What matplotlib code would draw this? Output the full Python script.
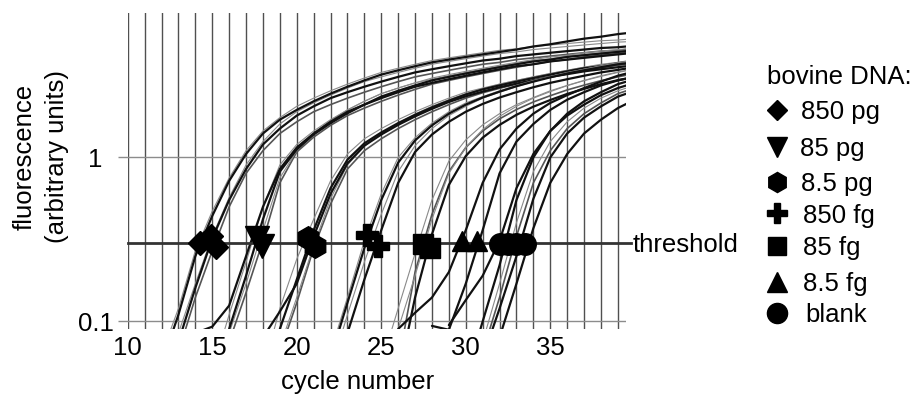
import matplotlib
matplotlib.use("Agg")
import matplotlib.pyplot as plt
from matplotlib.lines import Line2D

plt.rcParams['font.family'] = ['Liberation Sans', 'DejaVu Sans']
FS = 18.5

# fluorescence per cycle; each curve starts at *_start
pg850_start = [12, 12, 13, 13, 13]
pg850_vals = [
    [0.063, 0.12, 0.27, 0.47, 0.75, 1.1, 1.45, 1.75, 2.05, 2.3, 2.55, 2.8, 3.05, 3.3, 3.5,
     3.7, 3.9, 4.05, 4.2, 4.35, 4.5, 4.6, 4.75, 4.85, 4.95, 5.05, 5.15, 5.2, 5.3],
    [0.055, 0.11, 0.25, 0.44, 0.72, 1.05, 1.4, 1.7, 1.95, 2.2, 2.45, 2.7, 2.95, 3.2, 3.4,
     3.6, 3.8, 3.95, 4.1, 4.25, 4.4, 4.55, 4.75, 4.9, 5.1, 5.3, 5.45, 5.65, 5.8],
    [0.075, 0.16, 0.32, 0.55, 0.85, 1.2, 1.5, 1.8, 2.05, 2.3, 2.5, 2.7, 2.9, 3.1, 3.3,
     3.45, 3.6, 3.75, 3.9, 4.0, 4.15, 4.25, 4.35, 4.45, 4.55, 4.65, 4.7, 4.8],
    [0.065, 0.14, 0.27, 0.5, 0.8, 1.1, 1.4, 1.65, 1.9, 2.1, 2.3, 2.5, 2.7, 2.9, 3.1,
     3.25, 3.4, 3.55, 3.7, 3.8, 3.95, 4.05, 4.15, 4.25, 4.35, 4.45, 4.5, 4.6],
    [0.085, 0.17, 0.33, 0.57, 0.9, 1.25, 1.6, 1.9, 2.15, 2.4, 2.65, 2.9, 3.1, 3.3, 3.5,
     3.7, 3.85, 4.0, 4.15, 4.3, 4.4, 4.55, 4.65, 4.75, 4.85, 4.95, 5.05, 5.1],
]
pg850_style = ['thin', 'thick', 'thick', 'medium', 'thin']

pg85_start = [15, 16, 14, 16, 16]
pg85_vals = [
    [0.05, 0.11, 0.23, 0.5, 0.9, 1.2, 1.45, 1.7, 1.95, 2.2, 2.45, 2.65, 2.85, 3.0, 3.15,
     3.3, 3.45, 3.6, 3.75, 3.9, 4.0, 4.15, 4.25, 4.35, 4.45, 4.55],
    [0.09, 0.19, 0.42, 0.82, 1.12, 1.38, 1.62, 1.86, 2.1, 2.35, 2.55, 2.75, 2.95, 3.1, 3.25,
     3.4, 3.55, 3.7, 3.85, 3.95, 4.1, 4.2, 4.3, 4.4, 4.5],
    [0.085, 0.093, 0.125, 0.25, 0.5, 0.85, 1.15, 1.4, 1.65, 1.9, 2.1, 2.3, 2.5, 2.7, 2.85,
     3.0, 3.15, 3.3, 3.45, 3.6, 3.7, 3.85, 3.95, 4.05, 4.15, 4.25, 4.35],
    [0.075, 0.15, 0.31, 0.7, 1.08, 1.33, 1.57, 1.8, 2.0, 2.2, 2.4, 2.6, 2.8, 2.95, 3.1,
     3.25, 3.4, 3.55, 3.7, 3.85, 3.95, 4.1, 4.2, 4.3, 4.4],
    [0.085, 0.17, 0.36, 0.75, 1.1, 1.4, 1.68, 1.95, 2.2, 2.45, 2.65, 2.85, 3.05, 3.2, 3.35,
     3.5, 3.65, 3.8, 3.95, 4.1, 4.2, 4.35, 4.45, 4.55, 4.65],
]
pg85_style = ['thin', 'thick', 'thick', 'medium', 'thin']

pg8_start = [18, 19, 18, 19, 19]
pg8_vals = [
    [0.05, 0.12, 0.24, 0.42, 0.72, 1.05, 1.3, 1.5, 1.7, 1.9, 2.1, 2.3, 2.5, 2.65, 2.8,
     2.95, 3.1, 3.25, 3.4, 3.55, 3.65, 3.8, 3.9],
    [0.09, 0.18, 0.36, 0.65, 0.97, 1.22, 1.42, 1.62, 1.82, 2.02, 2.22, 2.42, 2.6, 2.75,
     2.9, 3.05, 3.2, 3.35, 3.5, 3.6, 3.75, 3.85],
    [0.08, 0.115, 0.17, 0.33, 0.6, 0.92, 1.18, 1.38, 1.58, 1.78, 1.98, 2.18, 2.36, 2.52,
     2.68, 2.82, 2.96, 3.1, 3.22, 3.35, 3.45, 3.55, 3.65],
    [0.065, 0.13, 0.28, 0.52, 0.85, 1.1, 1.3, 1.5, 1.7, 1.9, 2.1, 2.3, 2.48, 2.64, 2.8,
     2.95, 3.1, 3.25, 3.4, 3.52, 3.65, 3.75],
    [0.07, 0.14, 0.29, 0.56, 0.9, 1.17, 1.4, 1.62, 1.84, 2.05, 2.25, 2.45, 2.62, 2.8,
     2.95, 3.1, 3.25, 3.4, 3.55, 3.7, 3.8, 3.95],
]
pg8_style = ['thin', 'thick', 'thick', 'medium', 'thin']

fg850_start = [22, 22, 23, 22]
fg850_vals = [
    [0.065, 0.14, 0.31, 0.6, 1.0, 1.32, 1.62, 1.9, 2.15, 2.35, 2.55, 2.75, 2.95, 3.12,
     3.3, 3.45, 3.6, 3.75, 3.85],
    [0.06, 0.13, 0.28, 0.55, 0.93, 1.27, 1.57, 1.85, 2.1, 2.32, 2.52, 2.72, 2.9, 3.08,
     3.25, 3.4, 3.55, 3.7, 3.8],
    [0.085, 0.18, 0.36, 0.7, 1.08, 1.38, 1.65, 1.9, 2.12, 2.32, 2.5, 2.68, 2.85, 3.0,
     3.15, 3.3, 3.42, 3.55],
    [0.05, 0.11, 0.23, 0.45, 0.82, 1.18, 1.5, 1.8, 2.05, 2.3, 2.5, 2.7, 2.9, 3.1, 3.28,
     3.45, 3.62, 3.78, 3.92],
]
fg850_style = ['thin', 'thick', 'thick', 'thin']

fg85_start = [25, 26, 26, 25]
fg85_vals = [
    [0.055, 0.12, 0.26, 0.55, 0.95, 1.28, 1.58, 1.85, 2.1, 2.32, 2.55, 2.75, 2.95, 3.15,
     3.32, 3.48],
    [0.055, 0.2, 0.45, 0.82, 1.15, 1.45, 1.72, 1.96, 2.18, 2.38, 2.58, 2.76, 2.94, 3.1, 3.25],
    [0.045, 0.14, 0.34, 0.68, 1.02, 1.32, 1.58, 1.82, 2.04, 2.24, 2.44, 2.62, 2.8, 2.96, 3.1],
    [0.045, 0.09, 0.19, 0.42, 0.8, 1.15, 1.48, 1.78, 2.05, 2.3, 2.52, 2.74, 2.94, 3.12,
     3.3, 3.45],
]
fg85_style = ['thin', 'medium', 'thick', 'thin']

fg8_start = [26, 28]
fg8_vals = [
    [0.09, 0.113, 0.14, 0.2, 0.36, 0.7, 1.12, 1.5, 1.85, 2.15, 2.4, 2.65, 2.9, 3.15, 3.35],
    [0.094, 0.089, 0.17, 0.36, 0.8, 1.25, 1.6, 1.95, 2.25, 2.5, 2.75, 2.95, 3.1],
]
fg8_style = ['thick', 'thick']

blank_start = [29, 30, 31, 31, 32, 31]
blank_vals = [
    [0.095, 0.135, 0.19, 0.31, 0.65, 1.05, 1.45, 1.8, 2.1, 2.4, 2.65, 2.85],
    [0.045, 0.1, 0.22, 0.55, 1.0, 1.45, 1.85, 2.2, 2.5, 2.8, 3.0],
    [0.075, 0.17, 0.4, 0.82, 1.25, 1.65, 2.0, 2.3, 2.55, 2.75],
    [0.06, 0.12, 0.25, 0.56, 1.0, 1.4, 1.75, 2.05, 2.35, 2.55],
    [0.08, 0.17, 0.37, 0.7, 1.05, 1.4, 1.7, 2.0, 2.25],
    [0.065, 0.14, 0.33, 0.7, 1.1, 1.5, 1.85, 2.15, 2.45, 2.65],
]
blank_style = ['thick', 'thick', 'thin', 'thick', 'thick', 'medium']

# threshold-crossing markers
labels = ['850 pg', '85 pg', '8.5 pg', '850 fg', '85 fg', '8.5 fg', 'blank']
markers = ['D', 'v', 'h', 'P', 's', '^', 'o']
marker_size = [12.5, 17, 17, 15.5, 15, 15, 15.5]
legend_size = [10.5, 14.5, 14.5, 14.5, 13.5, 14.5, 14.5]
ct_x = [[14.26, 14.91, 15.2], [17.63, 17.92], [20.69, 21.08], [24.13, 24.82],
        [27.47, 27.86], [29.75, 30.67], [32.0, 32.5, 33.0, 33.5]]
ct_y = [[0.30, 0.33, 0.285], [0.323, 0.287], [0.323, 0.287], [0.338, 0.29],
        [0.295, 0.28], [0.308, 0.308], [0.296, 0.296, 0.296, 0.296]]
threshold = 0.3

styles = {'thick': dict(color='#111111', lw=1.6),
          'medium': dict(color='#555555', lw=1.2),
          'thin': dict(color='#8a8a8a', lw=0.8)}

fig = plt.figure(figsize=(9.17, 3.94), dpi=100)
ax = fig.add_axes([0.1393, 0.165, 0.5437, 0.802])
ax.set_yscale('log')

for c in range(10, 40):
    ax.axvline(c, color='#505050', lw=1.0, zorder=1)
for v in [0.1, 1]:
    ax.axhline(v, color='#8c8c8c', lw=1.0, zorder=1)

groups = [(pg850_start, pg850_vals, pg850_style), (pg85_start, pg85_vals, pg85_style),
          (pg8_start, pg8_vals, pg8_style), (fg850_start, fg850_vals, fg850_style),
          (fg85_start, fg85_vals, fg85_style), (fg8_start, fg8_vals, fg8_style),
          (blank_start, blank_vals, blank_style)]
for starts, vals, sty in groups:
    order = sorted(range(len(vals)), key=lambda i: sty[i] == 'thick')
    for i in order:
        x = list(range(starts[i], starts[i] + len(vals[i])))
        ax.plot(x, vals[i], zorder=2, solid_capstyle='round', **styles[sty[i]])

ax.plot([10, 39.75], [threshold, threshold], color='#333333', lw=2.0,
        clip_on=False, zorder=3)

for xs, ys, m, ms in zip(ct_x, ct_y, markers, marker_size):
    ax.plot(xs, ys, linestyle='none', marker=m, ms=ms, color='black',
            mec='black', zorder=4)

ax.set_xlim(10, 39.5)
ax.set_ylim(0.09, 7.6)
for s in ax.spines.values():
    s.set_visible(False)
ax.set_xticks([10, 15, 20, 25, 30, 35])
ax.set_xticklabels(['10', '15', '20', '25', '30', '35'], fontsize=FS)
ax.set_yticks([0.1, 1])
ax.set_yticklabels(['0.1', '1'], fontsize=FS)
ax.yaxis.set_minor_locator(matplotlib.ticker.NullLocator())
ax.tick_params(axis='x', length=0, pad=5)
ax.tick_params(axis='y', length=7.2, width=1.0, color='#8c8c8c', pad=16)
for t in ax.get_yticklabels():
    t.set_horizontalalignment('center')

W, H = 917.0, 394.0
fig.text(358 / W, 1 - 382 / H, 'cycle number', fontsize=FS, ha='center', va='center')
fig.text(25 / W, 1 - 157 / H, 'fluorescence', fontsize=FS, rotation=90,
         ha='center', va='center')
fig.text(57 / W, 1 - 157 / H, '(arbitrary units)', fontsize=FS, rotation=90,
         ha='center', va='center')
fig.text(633 / W, 1 - 251.5 / H, 'threshold', fontsize=FS, ha='left', va='baseline')

# legend drawn by hand
fig.text(767 / W, 1 - 83.5 / H, 'bovine DNA:', fontsize=FS, ha='left', va='baseline')
row_y = [110, 147, 181.7, 213.3, 246, 281.7, 312.5]
text_x = [801, 800, 801, 803, 803, 803, 805]
for lab, m, ms, yy, tx in zip(labels, markers, legend_size, row_y, text_x):
    fig.add_artist(Line2D([777 / W], [1 - yy / H], marker=m, ms=ms, color='black',
                          linestyle='none', transform=fig.transFigure))
    fig.text(tx / W, 1 - (yy + 9.3) / H, lab, fontsize=FS, ha='left', va='baseline')

fig.savefig('out.png', dpi=100)
